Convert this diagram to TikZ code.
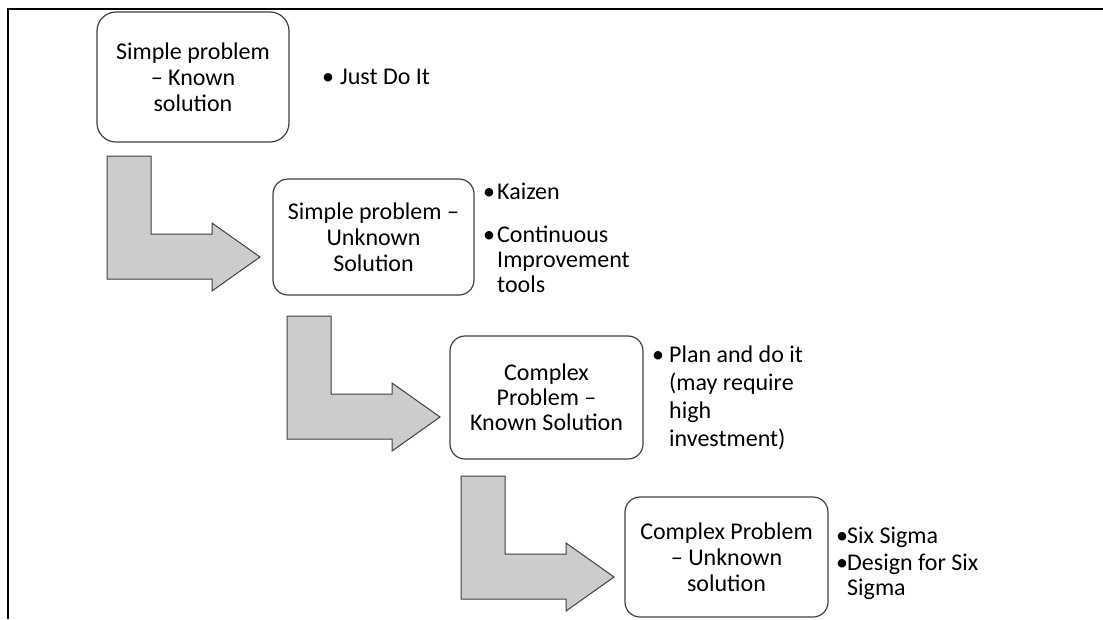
\documentclass[tikz,border=0pt]{standalone}
\usepackage{fontspec}
\setmainfont{Carlito}
\newcommand{\bitem}[2][15pt]{\makebox[#1][l]{\textbullet}\begin{tabular}[t]{@{}l@{}}#2\end{tabular}}

\begin{document}
\begin{tikzpicture}[x=1pt, y=-1pt,
  box/.style={draw=black!75, line width=1.2pt, rounded corners=15pt, align=center,
    font=\fontsize{24}{26}\selectfont},
  item/.style={anchor=base west, inner sep=0pt, font=\fontsize{24}{25}\selectfont},
  bentarrow/.pic={
    \draw[draw=black!75, fill=black!20, line width=1pt]
      (0,0) -- (44,0) -- (44,78) -- (105,78) -- (105,67) -- (153,101)
      -- (105,135) -- (105,123) -- (0,123) -- cycle;
  }]
\useasboundingbox (0,0) rectangle (1103,619);
% cadre
\draw[line width=2.5pt] (1103,9) -- (8,9) -- (8,619);
% etapes
\node[box, rounded corners=19pt, minimum width=192pt, minimum height=130pt] (b1) at (193,77) {Simple problem\\– Known\\solution};
\node[box, minimum width=201pt, minimum height=116pt] (b2) at (373.5,237) {Simple problem –\\Unknown\\Solution};
\node[box, font=\fontsize{24}{25}\selectfont, minimum width=193pt, minimum height=123pt] (b3) at (546.5,397.5) {Complex\\Problem –\\Known Solution};
\node[box, minimum width=203pt, minimum height=120pt] (b4) at (726.5,557) {Complex Problem\\– Unknown\\solution};
% fleches
\pic at (107,156) {bentarrow};
\pic at (287,316) {bentarrow};
\pic at (461,476) {bentarrow};
% listes
\node[item] (j1) at (322,84) {\bitem[18pt]{Just Do It}};
\node[item] (k1) at (483,199) {\bitem[14pt]{Kaizen}};
\node[item] (k2) at (483,242) {\bitem[14pt]{Continuous\\Improvement\\tools}};
\node[item, font=\fontsize{24}{28}\selectfont] (p1) at (652,362) {\bitem[17pt]{Plan and do it\\(may require\\high\\investment)}};
\node[item] (s1) at (836,543) {\bitem[11pt]{Six Sigma}};
\node[item] (s2) at (836,570) {\bitem[11pt]{Design for Six\\Sigma}};
\end{tikzpicture}
\end{document}
